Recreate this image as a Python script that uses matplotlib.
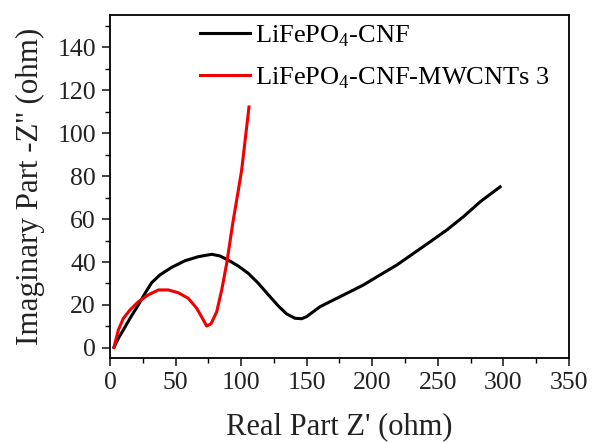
import matplotlib
matplotlib.use("Agg")
import matplotlib.pyplot as plt
from matplotlib.ticker import MultipleLocator

plt.rcParams['font.family'] = ['Liberation Serif', 'DejaVu Serif']
plt.rcParams['mathtext.fontset'] = 'custom'
plt.rcParams['mathtext.rm'] = 'Liberation Serif'

# Nyquist data: LiFePO4-CNF
cnf_re = [3.05, 6.4, 10.2, 15.3, 21.6, 26.7, 31.8, 38.1, 47.0, 57.2, 67.4,
          77.6, 83.9, 90.2, 97.9, 105.5, 113.1, 120.8, 128.4, 134.8, 141.1,
          146.2, 150.0, 160.2, 170.3, 180.5, 193.2, 206.0, 218.7, 231.4,
          244.1, 256.8, 269.5, 282.2, 297.5]
cnf_im = [0.3, 4.5, 8.4, 13.8, 20.0, 25.4, 30.4, 34.0, 37.5, 40.6, 42.5,
          43.6, 42.8, 40.9, 38.1, 34.7, 30.1, 24.7, 19.5, 15.8, 13.8,
          13.6, 14.6, 19.2, 22.3, 25.4, 29.3, 34.0, 38.6, 44.0,
          49.4, 54.9, 61.1, 68.0, 75.0]

# Nyquist data: LiFePO4-CNF-MWCNTs 3
mw_re = [3.05, 6.4, 10.2, 15.3, 21.6, 29.2, 36.9, 44.5, 52.1, 59.7, 66.1,
         71.2, 73.7, 77.0, 81.4, 85.2, 89.0, 94.0, 97.2, 100.4, 106.0]
mw_im = [0.3, 8.4, 13.8, 17.7, 21.5, 24.7, 27.0, 27.0, 25.7, 23.1, 18.5,
         13.0, 10.2, 11.2, 16.9, 27.0, 39.4, 59.5, 71.0, 82.8, 112.2]

x_ticks = [0, 50, 100, 150, 200, 250, 300, 350]
y_ticks = [0, 20, 40, 60, 80, 100, 120, 140]

fig = plt.figure(figsize=(5.92, 4.42), dpi=100)
ax = fig.add_axes([0.1858, 0.190, 0.7753, 0.776])

ax.plot(cnf_re, cnf_im, color='black', lw=2.2, solid_joinstyle='round',
        label=r'LiFePO$_4$-CNF')
ax.plot(mw_re, mw_im, color='#f00000', lw=2.2, solid_joinstyle='round',
        label=r'LiFePO$_4$-CNF-MWCNTs 3')

ax.set_xlim(0, 350)
ax.set_ylim(-4.7, 155)
ax.set_xticks(x_ticks)
ax.set_yticks(y_ticks)
ax.xaxis.set_minor_locator(MultipleLocator(25))
ax.yaxis.set_minor_locator(MultipleLocator(10))
ax.tick_params(which='major', direction='out', length=6, width=1.2,
               labelsize=18.5, colors='#222222', pad=4)
ax.tick_params(which='minor', direction='out', length=3.5, width=1.0)
for s in ax.spines.values():
    s.set_linewidth(1.3)

ax.set_xlabel("Real Part Z' (ohm)", fontsize=22, color='#222222', labelpad=13)
ax.set_ylabel("Imaginary Part -Z'' (ohm)", fontsize=22.3, color='#222222', labelpad=9)

ax.legend(loc='upper left', bbox_to_anchor=(0.196, 0.975), frameon=False,
          fontsize=19, handlelength=1.9, handletextpad=0.2, labelspacing=0.62,
          borderaxespad=0, borderpad=0)

fig.savefig('out.png', dpi=100)
